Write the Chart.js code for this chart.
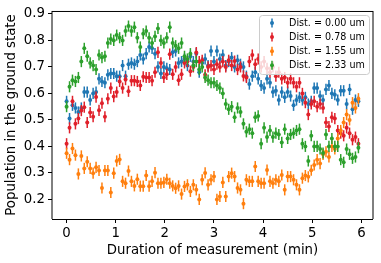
<!DOCTYPE html>
<html>
<head>
<meta charset="utf-8">
<script src="https://cdn.jsdelivr.net/npm/chart.js@4.4.1/dist/chart.umd.min.js"></script>
<style>
  body { margin: 0; background: #fff; }
  canvas { display: block; }
</style>
</head>
<body>
<canvas id="chart" width="381" height="263"></canvas>
<script>
// measurement times (min), one point every 0.06 min
const times = [
  0, 0.06, 0.12, 0.18, 0.24, 0.3, 0.36, 0.42, 0.48, 0.54,
  0.6, 0.66, 0.72, 0.78, 0.84, 0.9, 0.96, 1.02, 1.08, 1.14,
  1.2, 1.26, 1.32, 1.38, 1.44, 1.5, 1.56, 1.62, 1.68, 1.74,
  1.8, 1.86, 1.92, 1.98, 2.04, 2.1, 2.16, 2.22, 2.28, 2.34,
  2.4, 2.46, 2.52, 2.58, 2.64, 2.7, 2.76, 2.82, 2.88, 2.94,
  3, 3.06, 3.12, 3.18, 3.24, 3.3, 3.36, 3.42, 3.48, 3.54,
  3.6, 3.66, 3.72, 3.78, 3.84, 3.9, 3.96, 4.02, 4.08, 4.14,
  4.2, 4.26, 4.32, 4.38, 4.44, 4.5, 4.56, 4.62, 4.68, 4.74,
  4.8, 4.86, 4.92, 4.98, 5.04, 5.1, 5.16, 5.22, 5.28, 5.34,
  5.4, 5.46, 5.52, 5.58, 5.64, 5.7, 5.76, 5.82, 5.88, 5.94
];

const dist000 = [
  0.57, 0.505, 0.555, 0.545, 0.53, 0.545, 0.605, 0.605, 0.575, 0.60,
  0.605, 0.655, 0.645, 0.64, 0.67, 0.675, 0.675, 0.665, 0.665, 0.705,
  0.665, 0.71, 0.715, 0.71, 0.72, 0.745, 0.73, 0.75, 0.775, 0.77,
  0.75, 0.70, 0.675, 0.70, 0.695, 0.69, 0.755, 0.76, 0.715, 0.72,
  0.73, 0.705, 0.74, 0.72, 0.75, 0.68, 0.715, 0.73, 0.705, 0.76,
  0.72, 0.76, 0.73, 0.745, 0.705, 0.72, 0.735, 0.70, 0.725, 0.71,
  0.70, 0.665, 0.635, 0.665, 0.68, 0.655, 0.63, 0.62, 0.655, 0.64,
  0.605, 0.61, 0.575, 0.605, 0.585, 0.605, 0.59, 0.555, 0.575, 0.585,
  0.575, 0.585, 0.56, 0.57, 0.62, 0.62, 0.59, 0.575, 0.615, 0.63,
  0.60, 0.595, 0.575, 0.61, 0.61, 0.56, 0.615, 0.54, 0.575, 0.57
];

const dist078 = [
  0.41, 0.47, 0.57, 0.485, 0.505, 0.535, 0.548, 0.49, 0.528, 0.512,
  0.586, 0.536, 0.563, 0.512, 0.58, 0.62, 0.588, 0.605, 0.645, 0.62,
  0.652, 0.608, 0.648, 0.648, 0.645, 0.63, 0.663, 0.66, 0.66, 0.648,
  0.68, 0.755, 0.715, 0.66, 0.672, 0.748, 0.672, 0.70, 0.65, 0.672,
  0.715, 0.72, 0.684, 0.70, 0.754, 0.72, 0.725, 0.67, 0.70, 0.705,
  0.69, 0.71, 0.70, 0.72, 0.70, 0.725, 0.705, 0.722, 0.69, 0.70,
  0.666, 0.66, 0.72, 0.745, 0.71, 0.73, 0.70, 0.72, 0.695, 0.68,
  0.70, 0.665, 0.68, 0.655, 0.66, 0.64, 0.655, 0.64, 0.625, 0.64,
  0.60, 0.565, 0.52, 0.56, 0.57, 0.55, 0.56, 0.545, 0.49, 0.475,
  0.51, 0.505, 0.46, 0.45, 0.44, 0.47, 0.45, 0.425, 0.435, 0.41
];

const dist155 = [
  0.374, 0.35, 0.392, 0.367, 0.296, 0.364, 0.317, 0.342, 0.317, 0.299,
  0.321, 0.309, 0.243, 0.309, 0.309, 0.226, 0.299, 0.345, 0.351, 0.268,
  0.261, 0.307, 0.268, 0.251, 0.276, 0.25, 0.25, 0.29, 0.25, 0.268,
  0.301, 0.261, 0.261, 0.264, 0.276, 0.261, 0.251, 0.242, 0.251, 0.22,
  0.249, 0.255, 0.23, 0.255, 0.236, 0.20, 0.274, 0.30, 0.255, 0.274,
  0.286, 0.20, 0.211, 0.264, 0.211, 0.286, 0.299, 0.286, 0.243, 0.236,
  0.184, 0.274, 0.268, 0.268, 0.324, 0.268, 0.261, 0.261, 0.311, 0.268,
  0.261, 0.274, 0.268, 0.292, 0.236, 0.286, 0.286, 0.274, 0.255, 0.236,
  0.28, 0.29, 0.285, 0.31, 0.33, 0.35, 0.335, 0.37, 0.38, 0.36,
  0.40, 0.39, 0.43, 0.46, 0.49, 0.52, 0.50, 0.565, 0.545, 0.58
];

const dist233 = [
  0.55, 0.625, 0.65, 0.645, 0.66, 0.72, 0.77, 0.74, 0.715, 0.705,
  0.69, 0.745, 0.735, 0.74, 0.79, 0.805, 0.80, 0.82, 0.81, 0.80,
  0.835, 0.854, 0.835, 0.85, 0.81, 0.775, 0.825, 0.835, 0.81, 0.79,
  0.815, 0.845, 0.80, 0.79, 0.81, 0.85, 0.79, 0.78, 0.77, 0.79,
  0.74, 0.73, 0.75, 0.705, 0.72, 0.69, 0.70, 0.66, 0.65, 0.64,
  0.64, 0.63, 0.62, 0.60, 0.56, 0.54, 0.55, 0.51, 0.545, 0.53,
  0.485, 0.455, 0.465, 0.45, 0.51, 0.515, 0.41, 0.47, 0.435, 0.46,
  0.435, 0.45, 0.445, 0.415, 0.465, 0.43, 0.445, 0.45, 0.46, 0.465,
  0.41, 0.40, 0.345, 0.44, 0.40, 0.40, 0.39, 0.375, 0.445, 0.40,
  0.43, 0.40, 0.40, 0.35, 0.34, 0.39, 0.37, 0.355, 0.36, 0.395
];

const seriesLabels = ['Dist. = 0.00 um', 'Dist. = 0.78 um', 'Dist. = 1.55 um', 'Dist. = 2.33 um'];
const seriesValues = [dist000, dist078, dist155, dist233];
const seriesColours = ['#1f77b4', '#e0202a', '#ff7f0e', '#2ca02c'];
const errorSizes = [0.021, 0.021, 0.021, 0.021];

const xTicks = [0, 1, 2, 3, 4, 5, 6];
const yTicks = [0.2, 0.3, 0.4, 0.5, 0.6, 0.7, 0.8, 0.9];

const fontFamily = '"DejaVu Sans", sans-serif';

// vertical error bar for every point, drawn just before its own markers
const errorBars = {
    id: 'errorBars',
    beforeDatasetDraw(chart, args) {
        const ctx = chart.ctx;
        const yScale = chart.scales.y;
        const ds = chart.data.datasets[args.index];
        const err = errorSizes[args.index];
        ctx.save();
        ctx.strokeStyle = ds.backgroundColor;
        ctx.lineWidth = 1.5;
        args.meta.data.forEach((pt, i) => {
            const v = ds.data[i].y;
            ctx.beginPath();
            ctx.moveTo(pt.x, yScale.getPixelForValue(v - err));
            ctx.lineTo(pt.x, yScale.getPixelForValue(v + err));
            ctx.stroke();
        });
        ctx.restore();
    }
};

// axes box and the legend in the upper right corner
const frameAndLegend = {
    id: 'frameAndLegend',
    afterDatasetsDraw(chart) {
        const ctx = chart.ctx;
        const a = chart.chartArea;
        ctx.save();
        ctx.strokeStyle = '#000';
        ctx.lineWidth = 1;
        ctx.beginPath();
        ctx.moveTo(a.left, a.top + 0.5);
        ctx.lineTo(a.right, a.top + 0.5);
        ctx.moveTo(a.left, a.bottom + 0.5);
        ctx.lineTo(a.right, a.bottom + 0.5);
        ctx.moveTo(a.left, a.top);
        ctx.lineTo(a.left, a.bottom);
        ctx.moveTo(a.right, a.top);
        ctx.lineTo(a.right, a.bottom);
        ctx.stroke();

        const boxLeft = 259, boxTop = 15, boxW = 110, boxH = 59;
        ctx.beginPath();
        ctx.roundRect(boxLeft + 0.5, boxTop + 0.5, boxW, boxH, 3);
        ctx.fillStyle = 'rgba(255,255,255,0.8)';
        ctx.fill();
        ctx.strokeStyle = '#cccccc';
        ctx.stroke();

        ctx.font = '9.6px ' + fontFamily;
        ctx.textBaseline = 'middle';
        ctx.textAlign = 'left';
        for (let i = 0; i < seriesLabels.length; i++) {
            const cy = boxTop + 8 + i * 14.1;
            const mx = boxLeft + 13;
            ctx.strokeStyle = seriesColours[i];
            ctx.lineWidth = 1.5;
            ctx.beginPath();
            ctx.moveTo(mx, cy - 4.5);
            ctx.lineTo(mx, cy + 4.5);
            ctx.stroke();
            ctx.fillStyle = seriesColours[i];
            ctx.beginPath();
            ctx.arc(mx, cy, 2, 0, Math.PI * 2);
            ctx.fill();
            ctx.fillStyle = '#000';
            ctx.fillText(seriesLabels[i], boxLeft + 30, cy + 0.5);
        }
        ctx.restore();
    }
};

const datasets = seriesValues.map((values, k) => ({
    label: seriesLabels[k],
    data: values.map((v, i) => ({ x: times[i], y: v })),
    backgroundColor: seriesColours[k],
    borderColor: seriesColours[k],
    pointRadius: 2,
    pointBorderWidth: 0,
    pointHoverRadius: 2,
    showLine: false,
    order: seriesValues.length - k
}));

new Chart(document.getElementById('chart'), {
    type: 'scatter',
    data: { datasets: datasets },
    options: {
        responsive: false,
        animation: false,
        events: [],
        layout: { padding: { left: 0, right: 8, top: 10, bottom: 0 } },
        plugins: {
            legend: { display: false },
            tooltip: { enabled: false }
        },
        scales: {
            x: {
                type: 'linear',
                min: -0.297,
                max: 6.237,
                afterBuildTicks: axis => { axis.ticks = xTicks.map(v => ({ value: v })); },
                afterFit: scale => { scale.height = 44; },
                border: { display: false },
                grid: { drawOnChartArea: false, tickLength: 4, color: '#000', tickColor: '#000' },
                ticks: {
                    autoSkip: false, maxRotation: 0, padding: 3, color: '#000',
                    font: { family: fontFamily, size: 13.3 }
                },
                title: {
                    display: true, text: 'Duration of measurement (min)', color: '#000',
                    font: { family: fontFamily, size: 13.3 },
                    padding: { top: 0, bottom: 4 }
                }
            },
            y: {
                type: 'linear',
                min: 0.126,
                max: 0.911,
                afterBuildTicks: axis => { axis.ticks = yTicks.map(v => ({ value: v })); },
                afterFit: scale => { scale.width = 52; },
                border: { display: false },
                grid: { drawOnChartArea: false, tickLength: 4, color: '#000', tickColor: '#000' },
                ticks: {
                    autoSkip: false, padding: 3, color: '#000',
                    font: { family: fontFamily, size: 13.3 },
                    callback: v => v.toFixed(1)
                },
                title: {
                    display: true, text: 'Population in the ground state', color: '#000',
                    font: { family: fontFamily, size: 13.3 },
                    padding: { top: 4, bottom: 0 }
                }
            }
        }
    },
    plugins: [errorBars, frameAndLegend]
});
</script>
</body>
</html>
